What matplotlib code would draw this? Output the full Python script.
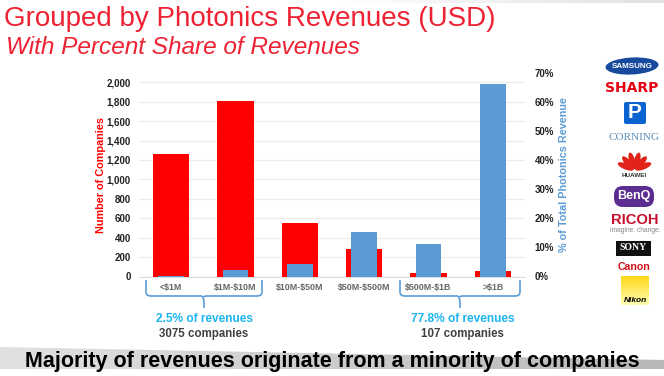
import numpy as np
import matplotlib
matplotlib.use('Agg')
import matplotlib.pyplot as plt
from matplotlib.patches import Ellipse, FancyBboxPatch, Rectangle, Polygon, PathPatch
from matplotlib.path import Path

categories = [r'<\$1M', r'\$1M-\$10M', r'\$10M-\$50M', r'\$50M-\$500M', r'\$500M-\$1B', r'>\$1B']
companies = [1260, 1810, 550, 280, 40, 60]
revenue_pct = [0.02, 2.2, 4.2, 15.2, 11.3, 66.2]
left_ticks = list(range(0, 2001, 200))
right_ticks = list(range(0, 71, 10))

RED = '#ff0000'
BLUE = '#5b9bd5'
CYAN = '#1cb5f0'
TITLE_RED = '#ee2233'
W, H = 664, 376

plt.rcParams['font.family'] = ['Liberation Sans', 'DejaVu Sans']

fig = plt.figure(figsize=(W / 100, H / 100), dpi=100)

# overlay in pixel coords for the slide furniture
bg = fig.add_axes([0, 0, 1, 1], zorder=0)
bg.axis('off')

# grey band at the bottom, tapering to the right
grad = np.linspace(0.88, 0.72, 256).reshape(1, -1)
band = bg.imshow(grad, extent=(0, W, 369, 347), cmap='gray', vmin=0, vmax=1, aspect='auto', zorder=1)
band.set_clip_path(Polygon([(0, 347), (0, 369), (W, 369), (W, 360)], closed=True, transform=bg.transData))
strip = bg.imshow(np.linspace(1, 0.88, 128).reshape(1, -1), extent=(330, W, 3, 0), cmap='gray', vmin=0, vmax=1,
                  aspect='auto', zorder=1)

bg.text(4, 19, 'Grouped by Photonics Revenues (USD)', color=TITLE_RED, fontsize=20, va='center', ha='left')
bg.text(6, 47, 'With Percent Share of Revenues', color=TITLE_RED, fontsize=17.6, style='italic', va='center', ha='left')
bg.text(332, 361, 'Majority of revenues originate from a minority of companies', color='black',
        fontsize=15.5, fontweight='bold', va='center', ha='center', zorder=3)

bg.text(204, 319, '2.5% of revenues', color=CYAN, fontsize=8.6, fontweight='bold', ha='center', va='center')
bg.text(204, 334, '3075 companies', color='#404040', fontsize=8.3, fontweight='bold', ha='center', va='center', zorder=3)
bg.text(463, 319, '77.8% of revenues', color=CYAN, fontsize=8.6, fontweight='bold', ha='center', va='center')
bg.text(462, 334, '107 companies', color='#404040', fontsize=8.3, fontweight='bold', ha='center', va='center', zorder=3)


def brace(x0, x1, xm):
    top, mid, tip = 280, 296, 308
    verts = [(x0, top), (x0, mid - 4), (x0, mid), (x0 + 5, mid), (xm - 3, mid), (xm, mid), (xm, tip - 4), (xm, tip),
             (xm, mid + 1), (xm, mid), (xm + 3, mid), (x1 - 5, mid), (x1, mid), (x1, mid - 4), (x1, top)]
    codes = [Path.MOVETO, Path.LINETO, Path.CURVE3, Path.CURVE3, Path.LINETO, Path.CURVE3, Path.CURVE3, Path.LINETO,
             Path.MOVETO, Path.CURVE3, Path.CURVE3, Path.LINETO, Path.CURVE3, Path.CURVE3, Path.LINETO]
    bg.add_patch(PathPatch(Path(verts, codes), fc='none', ec=BLUE, lw=1.2, zorder=2))


brace(146, 262, 204)
brace(400, 520, 460)

# logos on the right, rough stand-ins
bg.add_patch(Ellipse((632, 66), 53, 17, angle=-3, fc='#174a9c', ec='none'))
bg.text(632, 66, 'SAMSUNG', color='white', fontsize=5.8, fontweight='bold', ha='center', va='center')
bg.text(632, 88, 'SHARP', color='#e60012', fontsize=10, fontweight='bold', family=['DejaVu Sans'], ha='center', va='center')
bg.add_patch(FancyBboxPatch((624, 102), 22, 22, boxstyle='round,pad=0,rounding_size=2', fc='#0a63d0', ec='none'))
bg.text(635, 113, 'P', color='white', fontsize=15, fontweight='bold', ha='center', va='center')
bg.text(634, 137, 'CORNING', color='#5b8db8', fontsize=8, family=['Liberation Serif'], ha='center', va='center')
for ang in [-68, -42, -15, 15, 42, 68]:
    a = np.radians(ang)
    bg.add_patch(Ellipse((634.5 + 9.5 * np.sin(a), 170 - 9.5 * np.cos(a)), 6, 17, angle=ang, fc='#e2231a', ec='none'))
bg.text(634, 175.5, 'HUAWEI', color='#333333', fontsize=4.6, fontweight='bold', ha='center', va='center')
bg.add_patch(FancyBboxPatch((614, 186), 40, 21, boxstyle='round,pad=0,rounding_size=9', fc='#5b2d91', ec='none'))
bg.text(634, 196.5, 'BenQ', color='white', fontsize=9, fontweight='bold', ha='center', va='center')
bg.text(635, 220, 'RICOH', color='#c8102e', fontsize=10.6, fontweight='bold', ha='center', va='center')
bg.text(635, 231, 'imagine. change.', color='#888888', fontsize=4.8, ha='center', va='center')
bg.add_patch(Rectangle((616, 241), 35, 15, fc='#111111', ec='none'))
bg.text(633.5, 247, 'SONY', color='white', fontsize=7, fontweight='bold', family=['Liberation Serif'], ha='center', va='center')
bg.text(634, 267, 'Canon', color='#d1121b', fontsize=7.6, fontweight='bold', ha='center', va='center')
nik = np.linspace(1, 0, 64).reshape(-1, 1)
bg.imshow(np.dstack([np.ones_like(nik), 0.85 + 0.15 * (1 - nik), 0.1 + 0.6 * (1 - nik)]), extent=(621, 649, 305, 276),
          aspect='auto', zorder=1)
bg.text(635, 300, 'Nikon', color='black', fontsize=6, fontweight='bold', style='italic', ha='center', va='center', zorder=3)
bg.set_xlim(0, W)
bg.set_ylim(H, 0)

# the chart
ax_l, ax_r, ax_t, ax_b = 139, 525, 73, 276.5
ax = fig.add_axes([ax_l / W, 1 - ax_b / H, (ax_r - ax_l) / W, (ax_b - ax_t) / H], zorder=1)
ax.patch.set_alpha(0)
x = np.arange(len(categories))
scale_left = (ax_b - ax_t) / (194.2 / 2000)
ax.bar(x, companies, width=0.56, color=RED, zorder=3)
ax.set_xlim(-0.5, 5.5)
ax.set_ylim(0, scale_left)
ax.set_yticks(left_ticks)
ax.set_yticklabels([f'{t:,}' for t in left_ticks], fontsize=7, fontweight='bold', color='#222222')
ax.set_xticks(x)
ax.set_xticklabels(categories, fontsize=6.4, fontweight='bold', color='#666666')
ax.tick_params(axis='both', length=0)
ax.tick_params(axis='y', pad=6)
ax.tick_params(axis='x', pad=5)
ax.grid(axis='y', color='#ececec', lw=0.9, zorder=0)
ax.set_axisbelow(True)
for s in ['top', 'left', 'right']:
    ax.spines[s].set_visible(False)
ax.spines['bottom'].set_color('#dddddd')
ax.set_ylabel('Number of Companies', color=RED, fontsize=7.8, fontweight='bold')
ax.yaxis.set_label_coords(-0.085, 0.5)

ax2 = ax.twinx()
ax2.patch.set_alpha(0)
ax2.bar(x, revenue_pct, width=0.4, color=BLUE, zorder=3)
ax2.set_ylim(0, 70)
ax2.set_yticks(right_ticks)
ax2.set_yticklabels([f'{t}%' for t in right_ticks], fontsize=7, fontweight='bold', color='#222222')
ax2.tick_params(axis='y', length=0, pad=7)
for s in ax2.spines.values():
    s.set_visible(False)
ax2.set_ylabel('% of Total Photonics Revenue', color=BLUE, fontsize=7.8, fontweight='bold')
ax2.yaxis.set_label_coords(1.088, 0.5)

fig.savefig('out.png', dpi=100)
